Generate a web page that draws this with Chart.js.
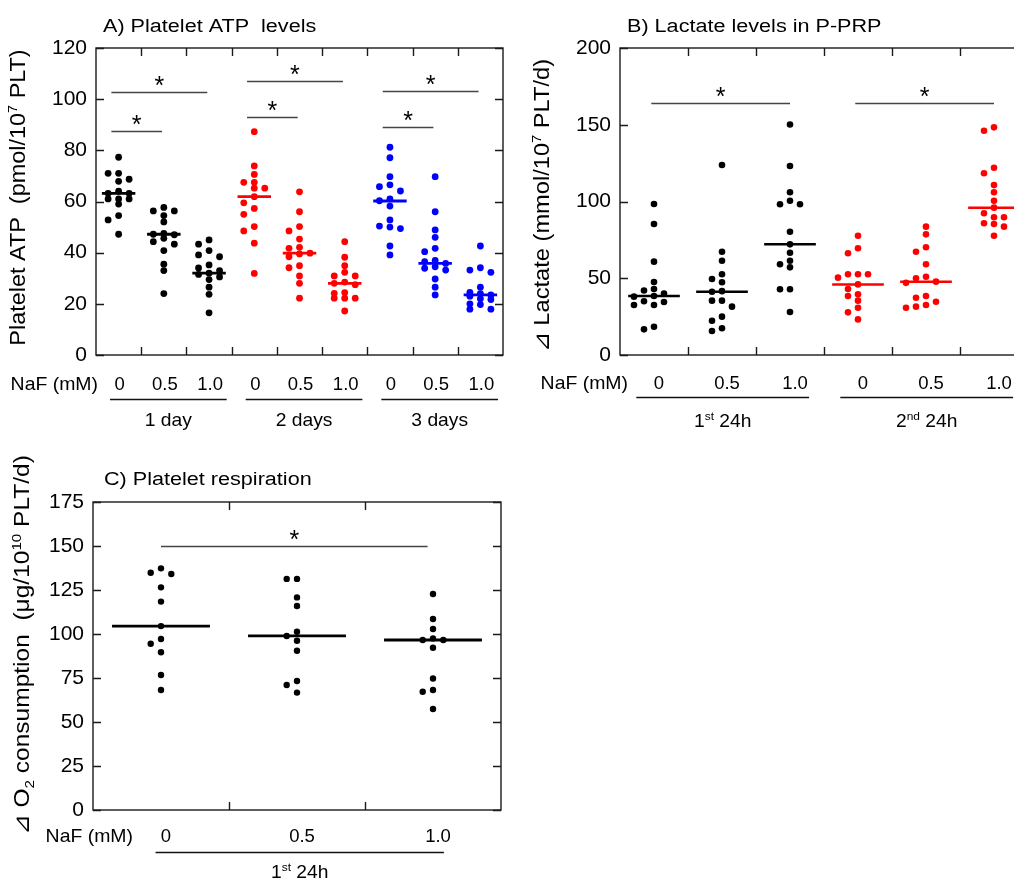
<!DOCTYPE html>
<html>
<head>
<meta charset="utf-8">
<title>NaF and platelet metabolism</title>
<script src="https://cdn.jsdelivr.net/npm/chart.js@4.4.1/dist/chart.umd.min.js"></script>
<style>
  html, body { margin: 0; padding: 0; background: #fff; width: 1014px; height: 882px; overflow: hidden; }
  .panel { position: absolute; }
</style>
</head>
<body>
<canvas id="chartA" class="panel" width="510" height="440" style="left:0;top:0"></canvas>
<canvas id="chartB" class="panel" width="520" height="440" style="left:520px;top:0"></canvas>
<canvas id="chartC" class="panel" width="510" height="442" style="left:0;top:440px"></canvas>
<script>
// values
const nafLevels = ['0', '0.5', '1.0'];

const atpDays = ['1 day', '2 days', '3 days'];
const atpDay1 = [
  [77.3, 71, 71, 68.7, 67.9, 64, 63.2, 63.2, 61, 61, 61, 59, 54.5, 52.8, 47.2],
  [57.7, 56.3, 56.3, 54.5, 52, 47.5, 47.2, 47, 45.6, 44.3, 43.3, 40.8, 35.5, 33, 24],
  [45, 43.3, 40.8, 39.1, 38.4, 35.2, 34, 33, 32, 31.5, 30.5, 29.5, 26.5, 23.7, 16.5]
];
const atpDay2 = [
  [87.3, 73.9, 70.6, 67.5, 67.5, 65.2, 65.2, 61.9, 59.5, 57.3, 55, 50.2, 48.5, 43.7, 31.9],
  [63.8, 56, 50.2, 48.5, 45.3, 42.1, 41.7, 39.8, 39.5, 38.4, 34.9, 34.1, 30.9, 28, 22.2],
  [44.3, 38.2, 34.9, 32.3, 30.9, 30.9, 28.5, 28, 27.5, 24.4, 24.1, 22.2, 22.2, 22.2, 17.2]
];
const atpDay3 = [
  [81.2, 77.1, 69.7, 66.5, 65.8, 64.1, 61, 60.3, 58.2, 52.8, 50.4, 50, 49.4, 42.6, 39.1],
  [69.7, 56, 48.9, 46, 41.7, 40.4, 37, 36.5, 35.8, 34.5, 33.9, 33.2, 29.7, 26.5, 23.5],
  [42.6, 34.1, 33.2, 32.3, 26.5, 24.5, 24, 23.5, 23, 22, 21.7, 20, 19.7, 17.9, 17.9]
];
const atpMedians = [63.2, 47.2, 32, 61.9, 39.8, 28, 60.2, 35.8, 23.5];
const atpSig = [[0, 1, 87.6], [0, 2, 102.8], [3, 4, 93], [3, 5, 107.1], [6, 7, 89.1], [6, 8, 103.2]];

const lacPeriods = ['1st 24h', '2nd 24h'];
const lac1st = [
  [98.4, 85.3, 60.8, 47.6, 43, 42, 40, 38.4, 38, 35, 34.5, 32.6, 32.6, 18.4, 16.7],
  [123.8, 67.3, 61.4, 52.6, 49.5, 47.4, 41.6, 41.2, 35.4, 35.4, 31.5, 25, 22.3, 17.4, 15.6],
  [150.2, 123.1, 106, 100.5, 98.2, 98.2, 80.3, 72.1, 66.6, 61.4, 59.1, 57.1, 42.8, 42.8, 28]
];
const lac2nd = [
  [77.7, 69.5, 66.3, 52.6, 52.6, 52.6, 50.4, 46, 43, 39.5, 38.4, 35.4, 30.8, 27.8, 23.2],
  [83.6, 78.6, 70.2, 67.3, 59.1, 51, 50, 47.8, 47, 38.4, 37.3, 34.7, 32.6, 31.5, 30.8],
  [148.3, 146.1, 122, 118.4, 110.7, 106, 100.5, 96, 92.3, 89.7, 89.7, 85.8, 85.3, 83.6, 77.7]
];
const lacMedians = [38.4, 41.2, 72.1, 46, 47.8, 96];
const lacSig = [[0, 2, 164], [3, 5, 164]];

const respPeriods = ['1st 24h'];
const resp1st = [
  [137.3, 134.8, 134.1, 126.5, 118.4, 104.5, 97.2, 94.5, 89.6, 76.7, 68.2],
  [131.3, 131.3, 120.8, 115.9, 101.3, 98.9, 96.2, 90.5, 73.3, 71, 66.7],
  [122.7, 108.5, 102.8, 97.5, 96.6, 96.6, 92.2, 74.7, 68.2, 67.2, 57.4]
];
const respMedians = [104.5, 98.9, 96.6];
const respSig = [[0, 2, 150]];

const FONT = '"Liberation Sans", Arial, sans-serif';

// parts: [text, mode] with mode 1 = superscript, -1 = subscript
function drawText(ctx, parts, x, y, size, align, sx) {
  ctx.save();
  ctx.translate(x, y);
  ctx.scale(sx, 1);
  ctx.textAlign = 'left';
  ctx.textBaseline = 'alphabetic';
  const items = parts.map(([s, m]) => {
    const fs = m ? size * 0.62 : size;
    ctx.font = fs + 'px ' + FONT;
    return { s, m, fs, w: ctx.measureText(s).width };
  });
  const total = items.reduce((t, it) => t + it.w, 0);
  let cx = align === 'center' ? -total / 2 : align === 'right' ? -total : 0;
  items.forEach(it => {
    ctx.font = it.fs + 'px ' + FONT;
    ctx.fillText(it.s, cx, it.m > 0 ? -size * 0.38 : it.m < 0 ? size * 0.22 : 0);
    cx += it.w;
  });
  ctx.restore();
}

function ordinal(label) {
  const m = label.match(/^(\d+)(st|nd|rd|th)\s*(.*)$/);
  return m ? [[m[1], 0], [m[2], 1], [' ' + m[3], 0]] : [[label, 0]];
}

function annotations(p) {
  return {
    id: 'annot',
    beforeDatasetsDraw(chart) {
      const { ctx, chartArea: a, scales: { x, y } } = chart;
      ctx.save();
      ctx.strokeStyle = '#1a1a1a';
      ctx.lineWidth = 1.4;
      ctx.strokeRect(a.left, a.top, a.right - a.left, a.bottom - a.top);
      ctx.beginPath();
      y.ticks.forEach(t => {
        const py = Math.round(y.getPixelForValue(t.value)) + 0.5;
        ctx.moveTo(a.left, py); ctx.lineTo(a.left + 8, py);
        ctx.moveTo(a.right - 8, py); ctx.lineTo(a.right, py);
      });
      for (let i = 0; i < p.n - 1; i++) {
        const px = Math.round(x.getPixelForValue(i + 0.5)) + 0.5;
        ctx.moveTo(px, a.bottom); ctx.lineTo(px, a.bottom - 8);
        ctx.moveTo(px, a.top); ctx.lineTo(px, a.top + 8);
      }
      ctx.stroke();
      ctx.restore();
    },
    afterDraw(chart) {
      const { ctx, chartArea: a, scales: { x, y } } = chart;
      ctx.save();
      ctx.fillStyle = '#000';
      drawText(ctx, [[p.title, 0]], a.left + p.titleDx, a.top - p.titleDy, 18, 'left', 1.2);

      ctx.save();
      ctx.translate(p.yTitleX, (a.top + a.bottom) / 2 + p.yTitleDy);
      ctx.rotate(-Math.PI / 2);
      drawText(ctx, p.yTitle, 0, 7, 21.5, 'center', p.yTitleSx);
      ctx.restore();

      drawText(ctx, [['NaF (mM)', 0]], p.nafX, a.bottom + p.rowDy, 18.5, 'right', 1.05);
      for (let i = 0; i < p.n; i++) {
        drawText(ctx, [[nafLevels[i % 3], 0]], x.getPixelForValue(i) + p.lblDx, a.bottom + p.rowDy, 18.5, 'center', 1);
      }

      ctx.strokeStyle = '#111';
      ctx.lineWidth = 1.3;
      p.groupLabels.forEach((g, k) => {
        const x1 = x.getPixelForValue(k * 3 + p.ul[0]);
        const x2 = x.getPixelForValue(k * 3 + 2 + p.ul[1]);
        const py = Math.round(a.bottom + p.ulDy) + 0.5;
        ctx.beginPath(); ctx.moveTo(x1, py); ctx.lineTo(x2, py); ctx.stroke();
        drawText(ctx, ordinal(g), (x1 + x2) / 2, a.bottom + p.glDy, 18.5, 'center', 1.04);
      });

      ctx.strokeStyle = '#444';
      ctx.lineWidth = 1.3;
      p.sig.forEach(([f, t, lvl]) => {
        const x1 = x.getPixelForValue(f + p.sigPad[0]);
        const x2 = x.getPixelForValue(t + p.sigPad[1]);
        const py = Math.round(y.getPixelForValue(lvl)) + 0.5;
        ctx.beginPath(); ctx.moveTo(x1, py); ctx.lineTo(x2, py); ctx.stroke();
        drawText(ctx, [['*', 0]], (x1 + x2) / 2, py + 1, 25, 'center', 1);
      });
      ctx.restore();
    }
  };
}

// spread overlapping dots sideways into a few columns, like a dot plot
function swarm(chart, p) {
  const xs = chart.scales.x, ys = chart.scales.y;
  const unit = xs.getPixelForValue(1) - xs.getPixelForValue(0);
  p.values.forEach((vals, g) => {
    const ds = chart.data.datasets[g];
    const placed = [];
    const order = vals.map((v, i) => i).sort((a, b) => vals[b] - vals[a]);
    order.forEach(i => {
      const py = ys.getPixelForValue(vals[i]);
      let best = null;
      for (let k = 0; k <= 2 * p.maxCol; k++) {
        const off = k === 0 ? 0 : (k % 2 ? -Math.ceil(k / 2) : Math.ceil(k / 2));
        const px = off * p.step;
        const d = placed.reduce((m, q) => Math.min(m, Math.hypot(q.x - px, q.y - py)), Infinity);
        if (d >= p.minDist) { best = { px, d }; break; }
        if (!best || d > best.d) best = { px, d };
      }
      placed.push({ x: best.px, y: py });
      ds.data[i].x = g + best.px / unit;
    });
  });
  chart.update('none');
}

function buildPanel(p) {
  p.values = p.periods.flat();
  p.n = p.values.length;
  const datasets = [];
  p.values.forEach((vals, g) => {
    datasets.push({
      data: vals.map(v => ({ x: g, y: v })),
      backgroundColor: p.colors[Math.floor(g / 3)],
      borderWidth: 0,
      pointRadius: p.dot,
      pointHoverRadius: p.dot
    });
  });
  p.medians.forEach((m, g) => {
    datasets.push({
      data: [{ x: g - p.medW, y: m }, { x: g + p.medW, y: m }],
      showLine: true,
      borderColor: p.colors[Math.floor(g / 3)],
      borderWidth: p.medLW,
      pointRadius: 0
    });
  });

  const chart = new Chart(document.getElementById(p.canvas), {
    type: 'scatter',
    data: { datasets },
    options: {
      responsive: false,
      animation: false,
      events: [],
      layout: { padding: { left: 0, top: p.pad.top, right: p.pad.right, bottom: p.pad.bottom } },
      plugins: { legend: { display: false }, tooltip: { enabled: false } },
      scales: {
        x: { type: 'linear', display: false, min: -0.5, max: p.n - 0.5 },
        y: {
          type: 'linear', min: 0, max: p.yMax,
          border: { display: false },
          grid: { display: false, drawTicks: false },
          ticks: { stepSize: p.yStep, color: '#000', padding: 9, font: { family: FONT, size: 21 } },
          afterFit: s => { s.width = p.axisW; }
        }
      }
    },
    plugins: [annotations(p)]
  });
  swarm(chart, p);
  return chart;
}

buildPanel({
  canvas: 'chartA',
  title: 'A) Platelet ATP  levels',
  yTitle: [['Platelet ATP  (pmol/10', 0], ['7', 1], [' PLT)', 0]],
  periods: [atpDay1, atpDay2, atpDay3], groupLabels: atpDays,
  medians: atpMedians, sig: atpSig,
  colors: ['#000000', '#ff0000', '#0000ff'],
  yMax: 120, yStep: 20,
  pad: { top: 48, right: 7, bottom: 85 }, axisW: 96,
  dot: 3.4, step: 10.5, minDist: 6.2, maxCol: 1, medW: 0.37, medLW: 2.8,
  titleDx: 7, titleDy: 16, yTitleX: 18, yTitleDy: -4, yTitleSx: 1.09,
  nafX: 98, rowDy: 35, lblDx: 1, ulDy: 44, glDy: 71, ul: [-0.19, 0.39],
  sigPad: [-0.16, -0.04]
});

buildPanel({
  canvas: 'chartB',
  title: 'B) Lactate levels in P-PRP',
  yTitle: [['\u22BF Lactate (mmol/10', 0], ['7', 1], [' PLT/d)', 0]],
  periods: [lac1st, lac2nd], groupLabels: lacPeriods,
  medians: lacMedians, sig: lacSig,
  colors: ['#000000', '#ff0000'],
  yMax: 200, yStep: 50,
  pad: { top: 48, right: 12, bottom: 85 }, axisW: 100,
  dot: 3.3, step: 10, minDist: 6.2, maxCol: 2, medW: 0.38, medLW: 2.5,
  titleDx: 7, titleDy: 16, yTitleX: 22, yTitleDy: 4, yTitleSx: 1.1,
  nafX: 108, rowDy: 34, lblDx: 5, ulDy: 42, glDy: 72, ul: [-0.26, 0.28],
  sigPad: [-0.04, 0]
});

buildPanel({
  canvas: 'chartC',
  title: 'C) Platelet respiration',
  yTitle: [['\u22BF O', 0], ['2', -1], [' consumption  (\u03BCg/10', 0], ['10', 1], [' PLT/d)', 0]],
  periods: [resp1st], groupLabels: respPeriods,
  medians: respMedians, sig: respSig,
  colors: ['#000000'],
  yMax: 175, yStep: 25,
  pad: { top: 62, right: 9, bottom: 72 }, axisW: 93,
  dot: 3.2, step: 10.3, minDist: 6.2, maxCol: 1, medW: 0.36, medLW: 2.8,
  titleDx: 11, titleDy: 17, yTitleX: 22, yTitleDy: -11, yTitleSx: 1.14,
  nafX: 133, rowDy: 32, lblDx: 5, ulDy: 42, glDy: 68, ul: [-0.04, 0.08],
  sigPad: [0, -0.04]
});
</script>
</body>
</html>
